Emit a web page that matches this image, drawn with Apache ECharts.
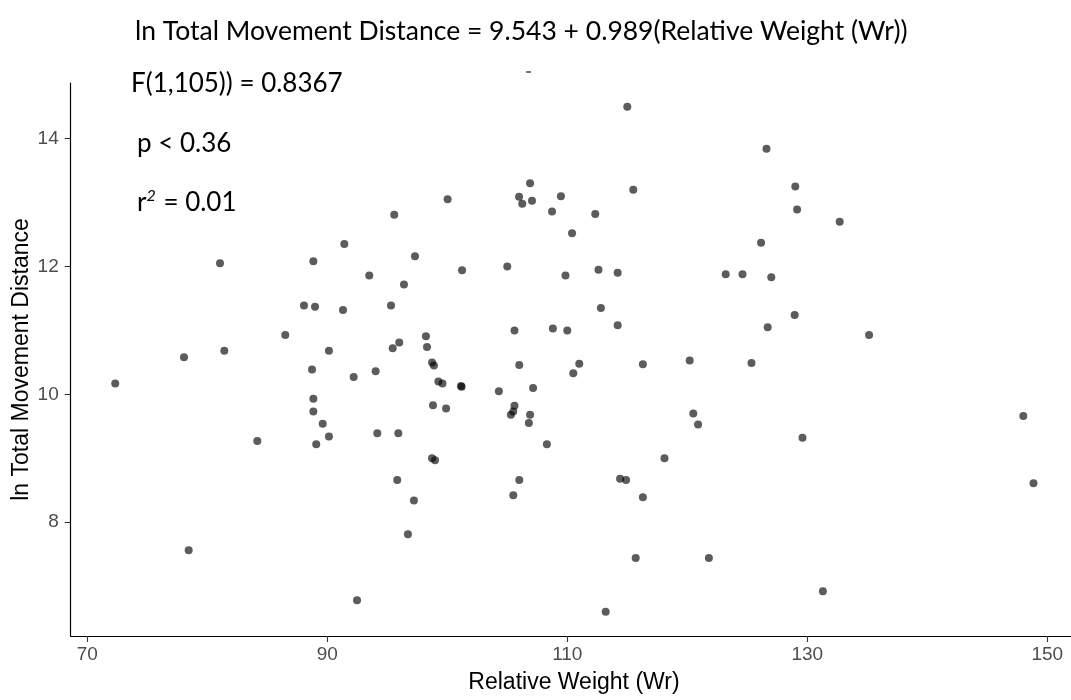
<!DOCTYPE html>
<html>
<head>
<meta charset="utf-8">
<title>ln Total Movement Distance vs Relative Weight</title>
<script src="https://cdn.jsdelivr.net/npm/echarts@6/dist/echarts.min.js"></script>
<style>
  html, body { margin: 0; padding: 0; background: #ffffff; }
  #chart { width: 1071px; height: 700px; }
</style>
</head>
<body>
<div id="chart"></div>
<script>
// Relative weight (Wr) of each fish
const relativeWeight = [
  72.33, 78.06, 78.45, 81.42, 81.06, 84.17, 86.5, 88.06, 88.73, 88.84,
  88.98, 88.84, 88.84, 89.08, 89.62, 90.14, 90.14, 91.31, 91.42, 92.2,
  92.48, 93.5, 94.03, 94.17, 95.31, 95.58, 95.45, 95.92, 95.83, 96.0,
  96.39, 97.31, 96.72, 97.22, 98.22, 98.31, 98.73, 98.89, 99.26, 99.6,
  98.81, 99.9, 98.73, 98.98, 100.03, 101.23, 101.14, 101.2, 104.3, 105.0,
  105.3, 105.5, 105.6, 105.6, 105.5, 106.0, 106.0, 105.98, 106.25, 106.9,
  107.06, 107.15, 106.9, 106.8, 108.3, 108.73, 108.8, 109.47, 109.85, 110.0,
  110.4, 110.5, 111.0, 112.33, 112.6, 112.8, 113.2, 114.2, 114.2, 114.4,
  114.9, 115.5, 115.7, 116.3, 116.3, 115.0, 118.1, 120.2, 120.5, 120.9,
  121.8, 123.2, 124.6, 125.35, 126.15, 126.6, 126.7, 127.0, 128.95, 129.0,
  129.15, 129.6, 132.7, 131.3, 135.15, 148.0, 148.85
];

// ln of total movement distance, same order as relativeWeight
const lnDistance = [
  10.17, 10.58, 7.56, 10.68, 12.05, 9.27, 10.93, 11.39, 10.39, 12.08,
  11.37, 9.93, 9.73, 9.22, 9.54, 10.68, 9.34, 11.32, 12.35, 10.27,
  6.78, 11.86, 10.36, 9.39, 11.39, 12.81, 10.72, 9.39, 8.66, 10.81,
  11.72, 12.16, 7.81, 8.34, 10.91, 10.74, 10.5, 10.45, 10.2, 10.17,
  9.83, 9.78, 9.0, 8.97, 13.05, 11.94, 10.13, 10.12, 10.05, 12.0,
  9.68, 9.73, 9.82, 11.0, 8.42, 10.46, 8.66, 13.09, 12.98, 13.30,
  13.03, 10.1, 9.68, 9.55, 9.22, 12.86, 11.03, 13.10, 11.86, 11.0,
  12.52, 10.33, 10.48, 12.82, 11.95, 11.35, 6.6, 11.9, 11.08, 8.68,
  8.66, 13.2, 7.44, 10.47, 8.39, 14.5, 9.0, 10.53, 9.7, 9.53,
  7.44, 11.88, 11.88, 10.49, 12.37, 13.84, 11.05, 11.83, 11.24, 13.25,
  12.89, 9.32, 12.7, 6.92, 10.93, 9.66, 8.61
];

const xTicks = [70, 90, 110, 130, 150];
const yTicks = [8, 10, 12, 14];

const modelText = 'ln Total Movement Distance = 9.543 + 0.989(Relative Weight (Wr))';
const fText = 'F(1,105)) = 0.8367';
const pText = 'p < 0.36';
const r2Value = '0.01';

const points = relativeWeight.map((x, i) => [x, lnDistance[i]]);

const chart = echarts.init(document.getElementById('chart'), null, { renderer: 'canvas' });

const axisFont = 'Liberation Sans, Arial, sans-serif';
const statFont = 'Lato, "Open Sans", sans-serif';
const tickLabelStyle = { color: '#4d4d4d', fontFamily: axisFont, fontSize: 19 };
const axisTitleStyle = { color: '#000000', fontFamily: axisFont, fontSize: 23 };

chart.setOption({
  backgroundColor: '#ffffff',
  animation: false,
  grid: {
    left: 70.7, right: -6.3, top: 83, bottom: 64,
    containLabel: false,
    outerBoundsMode: 'none'
  },
  xAxis: {
    type: 'value',
    min: 68.62,
    max: 152.5,
    name: 'Relative Weight (Wr)',
    nameLocation: 'middle',
    nameGap: 35,
    nameMoveOverlap: false,
    nameTextStyle: axisTitleStyle,
    axisLine: { onZero: false, lineStyle: { color: '#000000', width: 1.2 } },
    axisTick: { show: true, length: 6, customValues: xTicks, lineStyle: { color: '#333333', width: 1.1 } },
    axisLabel: { customValues: xTicks, margin: 9, ...tickLabelStyle },
    splitLine: { show: false }
  },
  yAxis: {
    type: 'value',
    min: 6.22,
    max: 14.87,
    name: 'ln Total Movement Distance',
    nameLocation: 'middle',
    nameGap: 38,
    nameMoveOverlap: false,
    nameRotate: 90,
    nameTextStyle: axisTitleStyle,
    axisLine: { onZero: false, lineStyle: { color: '#000000', width: 1.2 } },
    axisTick: { show: true, length: 6, customValues: yTicks, lineStyle: { color: '#333333', width: 1.1 } },
    axisLabel: { customValues: yTicks, margin: 12, ...tickLabelStyle },
    splitLine: { show: false }
  },
  series: [{
    type: 'scatter',
    data: points,
    symbol: 'circle',
    symbolSize: 8,
    itemStyle: { color: 'rgba(0,0,0,0.8)' },
    silent: true
  }],
  graphic: [
    {
      type: 'text', x: 135, y: 31,
      style: { text: modelText, fill: '#000', font: '26.5px ' + statFont, verticalAlign: 'middle' }
    },
    {
      type: 'text', x: 131, y: 84,
      style: { text: fText, fill: '#000', font: '26px ' + statFont, verticalAlign: 'middle' }
    },
    {
      type: 'text', x: 137, y: 144,
      style: { text: pText, fill: '#000', font: '26px ' + statFont, verticalAlign: 'middle' }
    },
    {
      type: 'text', x: 137, y: 203,
      style: {
        text: '{a|r}{s|2}{a| = ' + r2Value + '}',
        verticalAlign: 'middle',
        rich: {
          a: { fill: '#000', fontFamily: statFont, fontSize: 26, lineHeight: 30 },
          s: { fill: '#000', fontFamily: statFont, fontSize: 16, fontStyle: 'italic', lineHeight: 30, padding: [0, 1, 14, 0] }
        }
      }
    },
    {
      // small stray dash beside the F statistic
      type: 'line', silent: true,
      shape: { x1: 526, y1: 72, x2: 531, y2: 72 },
      style: { stroke: '#2f3f6f', lineWidth: 1.4 }
    }
  ]
});
</script>
</body>
</html>
